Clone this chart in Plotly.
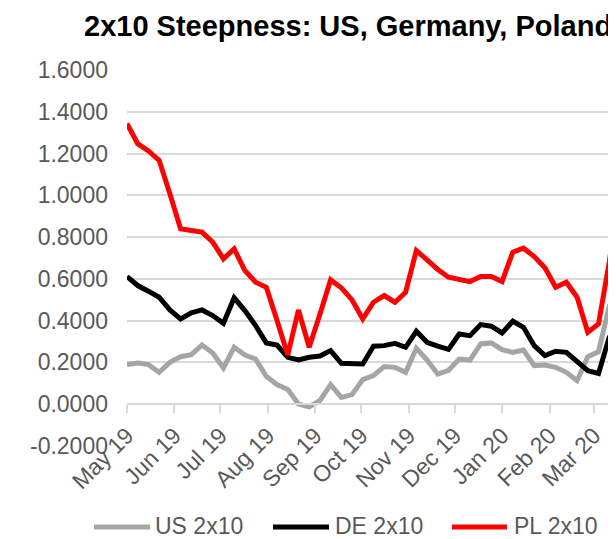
import plotly.graph_objects as go

dates = [
    "2019-05-01", "2019-05-08", "2019-05-15", "2019-05-22", "2019-05-29",
    "2019-06-05", "2019-06-12", "2019-06-19", "2019-06-26",
    "2019-07-03", "2019-07-10", "2019-07-17", "2019-07-24", "2019-07-31",
    "2019-08-07", "2019-08-14", "2019-08-21", "2019-08-28",
    "2019-09-04", "2019-09-11", "2019-09-18", "2019-09-25",
    "2019-10-02", "2019-10-09", "2019-10-16", "2019-10-23", "2019-10-30",
    "2019-11-06", "2019-11-13", "2019-11-20", "2019-11-27",
    "2019-12-04", "2019-12-11", "2019-12-18", "2019-12-25",
    "2020-01-01", "2020-01-08", "2020-01-15", "2020-01-22", "2020-01-29",
    "2020-02-05", "2020-02-12", "2020-02-19", "2020-02-26",
    "2020-03-04", "2020-03-11", "2020-03-18",
]

us_2x10 = [
    0.190, 0.197, 0.189, 0.152, 0.200, 0.227, 0.237, 0.283, 0.245, 0.173,
    0.272, 0.235, 0.216, 0.133, 0.093, 0.070, 0.000, -0.013, 0.016, 0.093,
    0.032, 0.045, 0.117, 0.136, 0.180, 0.176, 0.152, 0.267, 0.211, 0.144,
    0.162, 0.216, 0.211, 0.288, 0.293, 0.261, 0.248, 0.259, 0.184, 0.187,
    0.176, 0.152, 0.112, 0.227, 0.251, 0.470, 0.550,
]

de_2x10 = [
    0.611, 0.568, 0.541, 0.512, 0.451, 0.408, 0.437, 0.451, 0.424, 0.387,
    0.509, 0.448, 0.376, 0.293, 0.283, 0.224, 0.211, 0.224, 0.230, 0.256,
    0.195, 0.192, 0.192, 0.277, 0.280, 0.291, 0.272, 0.349, 0.296, 0.278,
    0.262, 0.336, 0.328, 0.381, 0.373, 0.341, 0.397, 0.368, 0.280, 0.232,
    0.253, 0.248, 0.205, 0.160, 0.147, 0.320, 0.360,
]

pl_2x10 = [
    1.344, 1.248, 1.213, 1.168, 1.008, 0.840, 0.832, 0.824, 0.776, 0.696,
    0.744, 0.640, 0.584, 0.560, 0.400, 0.235, 0.451, 0.272, 0.430, 0.595,
    0.557, 0.499, 0.408, 0.488, 0.520, 0.488, 0.536, 0.736, 0.691, 0.645,
    0.608, 0.595, 0.587, 0.611, 0.611, 0.587, 0.728, 0.747, 0.707, 0.653,
    0.560, 0.584, 0.512, 0.344, 0.384, 0.680, 1.050,
]

series_names = ["US 2x10", "DE 2x10", "PL 2x10"]
series_colors = ["#A5A5A5", "#000000", "#FF0000"]

y_tick_vals = [-0.2, 0.0, 0.2, 0.4, 0.6, 0.8, 1.0, 1.2, 1.4, 1.6]
y_tick_text = ["-0.2000", "0.0000", "0.2000", "0.4000", "0.6000",
               "0.8000", "1.0000", "1.2000", "1.4000", "1.6000"]

FONT = "Arial, Liberation Sans, sans-serif"
# the page body adds an 8px margin; lay out in page pixels and shift by it
OFF = 8
PAGE_W, PAGE_H = 616, 539
W, H = PAGE_W - OFF, PAGE_H - OFF
PLOT_L, PLOT_T, PLOT_B = 127, 70, 446          # page pixels
L, T = PLOT_L - OFF, PLOT_T - OFF
B = H - (PLOT_B - OFF)
R = 0
PW, PH = W - L - R, H - T - B


def px_to_paper_x(px):
    return (px - OFF - L) / PW


def py_to_paper_y(py):
    return (H - B - (py - OFF)) / PH


fig = go.Figure()
for name, vals, col in zip(series_names, [us_2x10, de_2x10, pl_2x10], series_colors):
    fig.add_trace(go.Scatter(
        x=dates, y=vals, name=name, mode="lines",
        line=dict(color=col, width=5),
        showlegend=False,
    ))

# custom legend (line sample + label), laid out like the reference
legend_line_x = [(94, 150), (273, 329), (452, 507)]
legend_text_x = [153, 333, 512]
legend_y = 527
shapes = []
annotations = []
for (x0, x1), tx, name, col in zip(legend_line_x, legend_text_x, series_names, series_colors):
    shapes.append(dict(
        type="line", xref="paper", yref="paper",
        x0=px_to_paper_x(x0), x1=px_to_paper_x(x1),
        y0=py_to_paper_y(legend_y), y1=py_to_paper_y(legend_y),
        line=dict(color=col, width=5),
    ))
    annotations.append(dict(
        text=name, showarrow=False, xref="paper", yref="paper",
        x=px_to_paper_x(tx), y=py_to_paper_y(legend_y - 1),
        xanchor="left", yanchor="middle",
        font=dict(family=FONT, size=23, color="#595959"),
    ))

ymin, ymax = -0.2, 1.6
zero_pos = (0 - ymin) / (ymax - ymin)

fig.update_layout(
    width=W, height=H,
    margin=dict(l=L, r=R, t=T, b=B, pad=0, autoexpand=False),
    paper_bgcolor="white", plot_bgcolor="white",
    font=dict(family=FONT, size=23, color="#595959"),
    title=dict(
        text="2x10 Steepness: US, Germany, Poland",
        font=dict(family=FONT, size=29, color="#000000", weight="bold"),
        xref="container", x=(84 - OFF) / W, xanchor="left",
        yref="container", y=1 - (26 - OFF) / H, yanchor="middle",
    ),
    showlegend=False,
    shapes=shapes,
    annotations=annotations,
    xaxis=dict(
        type="date",
        range=["2019-05-01", "2020-03-15 10:00"],
        tick0="2019-05-01", dtick="M1", tickformat="%b %y",
        tickangle=-45,
        ticks="outside", ticklen=8, tickwidth=1.5, tickcolor="#D9D9D9",
        showline=True, linecolor="#D9D9D9", linewidth=1.5,
        showgrid=False, zeroline=False,
        anchor="free", position=zero_pos,
        tickfont=dict(family=FONT, size=23, color="#595959"),
        automargin=False,
        fixedrange=True,
    ),
    yaxis=dict(
        range=[ymin - 0.001, ymax + 0.001],
        tickmode="array", tickvals=y_tick_vals, ticktext=y_tick_text,
        showgrid=True, gridcolor="#D9D9D9", gridwidth=1.5,
        zeroline=False, showline=False, ticks="",
        ticklabelstandoff=18,
        tickfont=dict(family=FONT, size=23, color="#595959"),
        automargin=False,
        fixedrange=True,
    ),
)

fig.write_html("out.html")
